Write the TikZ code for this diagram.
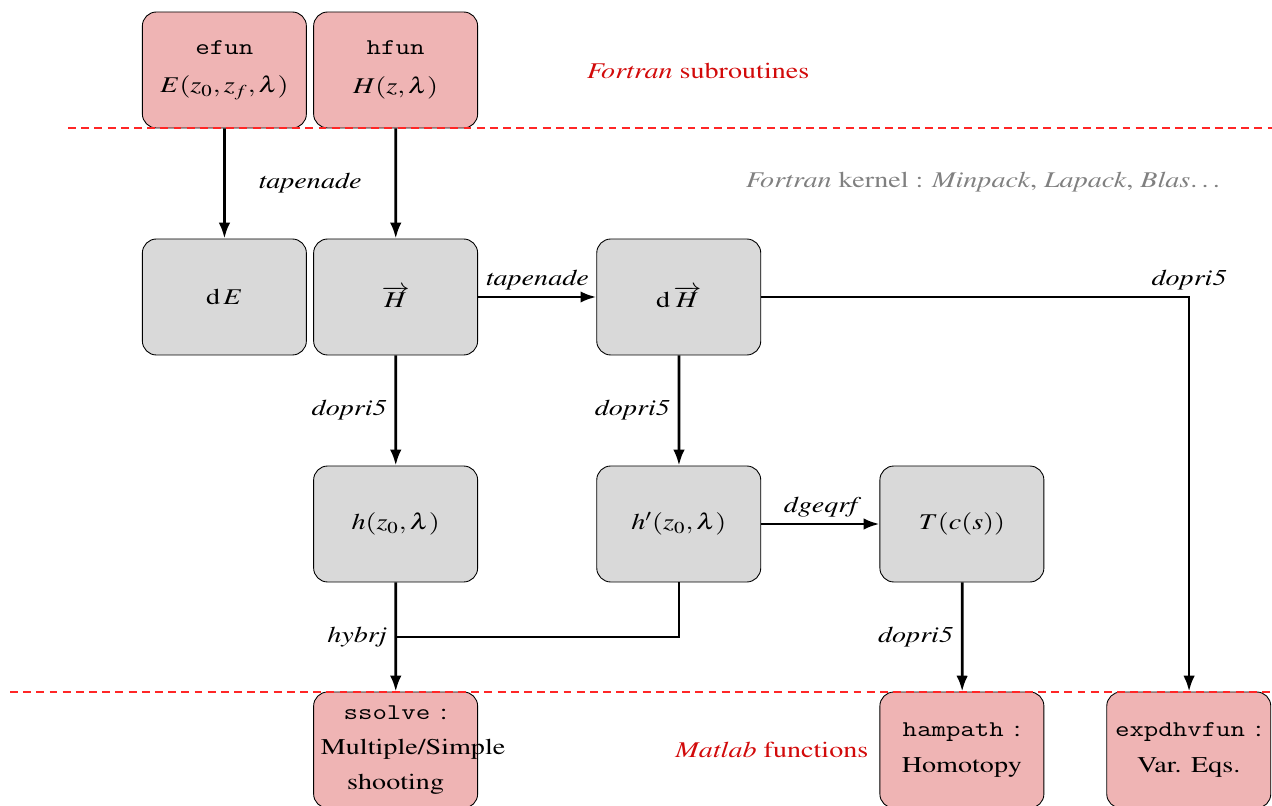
\documentclass[tikz,border=0pt]{standalone}
\usepackage{fix-cm}
\usepackage[OT1]{fontenc}
\usepackage{mathptmx}
\renewcommand{\ttdefault}{cmtt}
\usetikzlibrary{arrows.meta}
\definecolor{pinkbox}{RGB}{239,180,180}
\definecolor{greybox}{RGB}{217,217,217}
\definecolor{layerred}{RGB}{210,10,10}
\newcommand{\diagfont}{\fontsize{12.8}{20}\selectfont}
\tikzset{
  block/.style={draw, line width=0.5pt, rounded corners=8pt, text width=2.39cm,
    align=center, minimum height=2.32cm, inner sep=0.333em},
  fortbox/.style={block, fill=pinkbox},
  kernbox/.style={block, fill=greybox},
  arr/.style={line width=1.6pt, -{Latex[length=9pt,width=6.5pt]}},
  lnk/.style={line width=1.6pt},
  lbl/.style={font=\diagfont\itshape},
  layer/.style={red!85, line width=0.6pt, dash pattern=on 4.5pt off 3pt},
}
\begin{document}
\begin{tikzpicture}[xscale=1.25, transform shape, font=\diagfont]
  \useasboundingbox (0,0) rectangle (20.352,-16.12);
  % Fortran subroutines
  \node[fortbox] (efun) at (3.59,-1.40) {\texttt{efun}\\[2pt] $E(z_0,z_f,\lambda)$};
  \node[fortbox] (hfun) at (6.33,-1.40) {\texttt{hfun}\\[2pt] $H(z,\lambda)$};
  % Fortran kernel
  \node[kernbox] (dE) at (3.59,-5.94) {$\mathrm{d}\,E$};
  \node[kernbox] (Hvec) at (6.33,-5.94) {$\overrightarrow{H}$};
  \node[kernbox] (dH) at (10.86,-5.94) {$\mathrm{d}\,\overrightarrow{H}$};
  \node[kernbox] (h) at (6.33,-10.48) {$h(z_0,\lambda)$};
  \node[kernbox] (hp) at (10.86,-10.48) {$h'(z_0,\lambda)$};
  \node[kernbox] (T) at (15.39,-10.48) {$T(c(s))$};
  % Matlab functions
  \node[fortbox] (ssolve) at (6.33,-15.00) {\texttt{ssolve} :\\ Multiple/Simple\\ shooting};
  \node[fortbox] (hampath) at (15.39,-15.00) {\texttt{hampath} :\\ Homotopy};
  \node[fortbox] (expdhv) at (19.02,-15.00) {\texttt{expdhvfun}~:\\ Var.\ Eqs.};
  % layer names
  \node[text=layerred] (ftn) at (11.17,-1.42) {\textit{Fortran} subroutines};
  \node[text=gray] (krn) at (15.76,-3.64) {\textit{Fortran} kernel : \textit{Minpack}, \textit{Lapack}, \textit{Blas}\dots};
  \node[text=layerred] (mtl) at (12.35,-15.00) {\textit{Matlab} functions};
  % connectors
  \draw[arr] (efun) -- node[lbl, right=0.4cm] {tapenade} (dE);
  \draw[arr] (hfun) -- (Hvec);
  \draw[arr] (Hvec) -- node[lbl, above] {tapenade} (dH);
  \draw[arr] (dH) -| node[lbl, pos=0.5, above] {dopri5} (expdhv);
  \draw[arr] (Hvec) -- node[lbl, left] {dopri5} (h);
  \draw[arr] (dH) -- node[lbl, left] {dopri5} (hp);
  \draw[arr] (hp) -- node[lbl, above] {dgeqrf} (T);
  \draw[arr] (T) -- node[lbl, left] {dopri5} (hampath);
  \coordinate (jn) at (6.33,-12.74);
  \draw[arr] (h) -- (ssolve);
  \draw[lnk] (hp.south) |- (jn) node[lbl, left] {hybrj};
  % separators
  \draw[layer] (1.09,-2.56) -- (20.352,-2.56);
  \draw[layer] (0.16,-13.84) -- (20.352,-13.84);
\end{tikzpicture}
\end{document}
